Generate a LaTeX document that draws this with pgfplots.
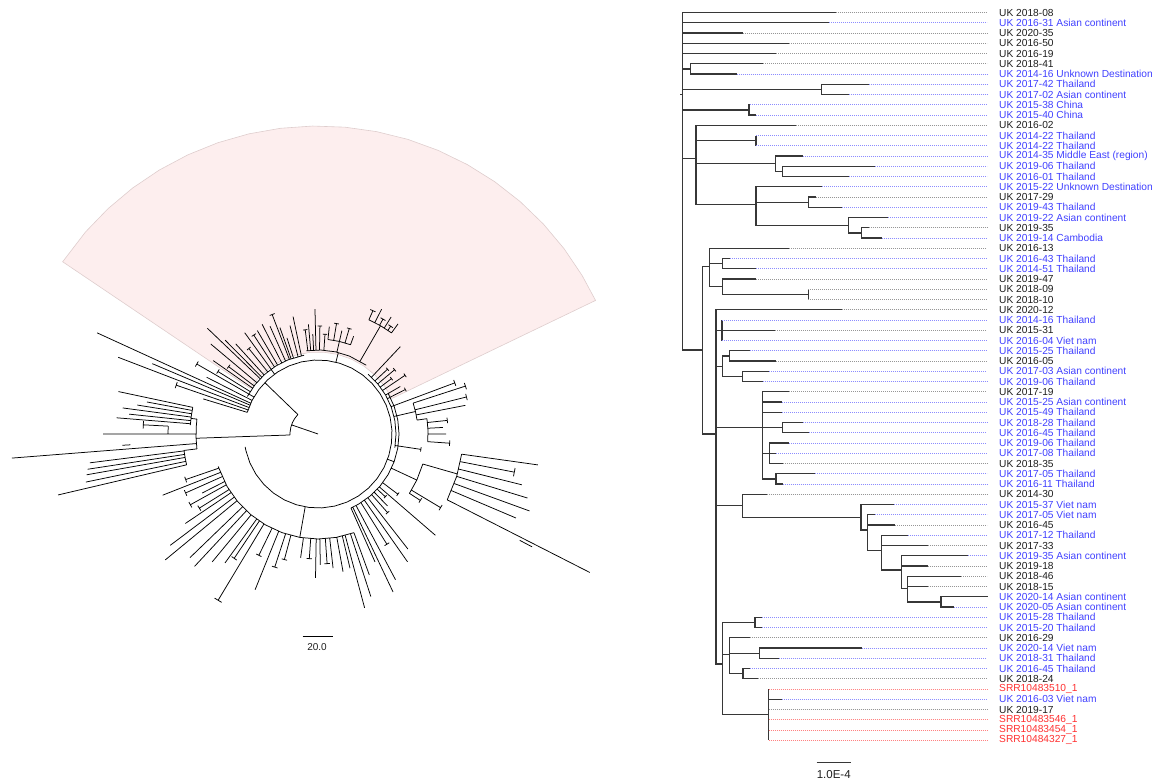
\documentclass[border=0pt]{standalone}
\usepackage{fontspec}
\setmainfont{Liberation Sans}
\usepackage{pgfplots}
\pgfplotsset{compat=1.18}

\definecolor{tipblue}{RGB}{64,64,255}
\definecolor{tipred}{RGB}{255,48,48}
\definecolor{tipblack}{RGB}{30,30,30}
\definecolor{dotblue}{RGB}{140,140,255}
\definecolor{dotred}{RGB}{255,130,130}
\definecolor{dotgray}{RGB}{150,150,150}
\definecolor{branch}{RGB}{55,55,55}
\definecolor{wedge}{RGB}{253,238,238}
\definecolor{wedgeedge}{RGB}{222,205,205}

\pgfplotsset{
  canvas/.style={width=1164pt, height=782pt, scale only axis, hide axis, clip=false},
  leader/.style={line width=0.6pt, dash pattern=on 0.9pt off 1.1pt},
  tiplabel/.style={draw=none, mark=none, nodes near coords, point meta=explicit symbolic,
    nodes near coords align={anchor=west},
    every node near coord/.append style={anchor=west, inner sep=0pt,
      font=\fontsize{10.2}{12}\selectfont, text=#1}},
}

\begin{document}
\begin{tikzpicture}

% ---------- left: circular tree, (angle, radius) around the root ----------
\begin{axis}[canvas, xmin=-318, xmax=846, ymin=-348, ymax=434]

\addplot[fill=wedge, draw=wedgeedge, line width=0.6pt, data cs=polar] coordinates {
 (25.7,82) (25.7,308) (31,308) (37,308) (43,308) (49,308) (55,308) (61,308)
 (67,308) (73,308) (79,308) (85,308) (91,308) (97,308) (103,308) (109,308)
 (115,308) (121,308) (127,308) (133,308) (139,308) (146,308) (146,82)
 (136,82) (126,82) (116,82) (106,82) (96,82) (86,82) (76,82) (66,82)
 (56,82) (46,82) (36,82) (25.7,82)};

\addplot[black, line width=0.75pt, data cs=polar, empty line=jump, unbounded coords=jump] table {
a r
161 0
161 28

136 28
146 28
156 28
166 28
176 28
182 28

136 28
136 74

182 28
182 122

163 74
153 74
143 74
133 74
123 74
113 74
103 74
93 74
83 74
73 74
63 74
53 74
43 74
33 74
23 74
13 74
3 74
-7 74
-17 74
-27 74
-37 74
-47 74
-57 74
-67 74
-77 74
-87 74
-97 74
-107 74
-117 74
-127 74
-137 74
-147 74
-157 74
-167 74
-170 74

152 80
142 80
132 80
122 80
112 80
100 80

126 74
126 80

98 84
88 84
78 84
68 84
55 84

76 74
76 84

50 78
40 78
30 78
20 78
10 78
0 78
-10 78

30 81
20 81
10 81
0 81
-10 81
-20 81
-30 81
-40 81
-50 81
-60 81
-66 81

-20 74
-20 81

-70 105
-80 105
-90 105
-100 105
-110 105
-120 105
-130 105
-140 105
-150 105
-162 105

-100 74
-100 105

173 122
177 122
182 122
187 122

163 74
163 120

161 74
161 150

159.8 150
162.2 150

159 74
159 214

157 74
157 180

155.4 74
155.4 243

153 74
153 125

150 74
150 140

148.8 140
151.2 140

148 80
148 118

146.8 118
149.2 118

145 80
145 128

143 80
143 112

141.8 112
144.2 112

140 80
140 140

136.3 80
136.3 153

134.7 80
134.7 132

132.4 80
132.4 122

129 80
129 110

127.8 110
130.2 110

125.9 80
125.9 125

123 80
123 118

121.8 118
124.2 118

120.4 80
120.4 120

117 80
117 123

114 80
114 118

111 80
111 128

109.8 128
112.2 128

109.7 80
109.7 113

107.9 80
107.9 101

104.5 80
104.5 112

102 80
102 120

97 84
97 105

95.8 105
98.2 105

95 84
95 110

93 84
93 100

91.4 84
91.4 125

89 84
89 108

87.8 108
90.2 108

86 84
86 100

84.8 100
87.2 100

77 84
77 95

84 95
77 95
70 95

84 95
84 108

80.5 95
80.5 112

79.3 112
81.7 112

77 95
77 106

73.5 95
73.5 110

72.3 110
74.7 110

70 95
70 104

60 84
60 125

66 125
60 125
54 125

66 125
66 135

64.8 135
67.2 135

63 125
63 140

60.5 125
60.5 132

59.3 132
61.7 132

58 125
58 138

56 125
56 130

54.8 130
57.2 130

54 125
54 136

46.7 78
46.7 120

43 78
43 95

41.8 95
44.2 95

40 78
40 100

38.8 100
41.2 100

37 78
37 92

35.8 92
38.2 92

34 78
34 105

32.8 105
35.2 105

30 78
30 95

27 78
27 98

25.8 98
28.2 98

20.5 78
20.5 146

19.3 146
21.7 146

13 78
13 100

18 100
13 100
8 100

18 100
18 155

16.8 155
19.2 155

14 100
14 153

12.8 153
15.2 153

11 100
11 150

8 100
8 110

8 110
2 110
-4 110

6 110
6 130

4.8 130
7.2 130

3 110
3 125

0 110
0 128

-4 110
-4 132

-5.2 132
-2.8 132

-8.5 78
-8.5 104

-9.7 104
-7.3 104

-25 81
-25 109

-16 109
-25 109
-33 109

-16 109
-16 145

-8 145
-17 145
-27 145

-8 145
-8 222

-11 145
-11 200

-12.2 200
-9.8 200

-14 145
-14 210

-17 145
-17 219

-20 145
-20 225

-23 145
-23 215

-27 145
-27 305

-27.8 228
-27.8 242

-31 109
-31 143

-32.2 143
-29.8 143

-33 109
-33 122

-34.2 122
-31.8 122

-37 81
-37 100

-38.2 100
-35.8 100

-40.8 81
-40.8 155

-43 81
-43 92

-44.2 92
-41.8 92

-46 81
-46 100

-48.5 81
-48.5 105

-49.7 105
-47.3 105

-52 81
-52 146

-55 81
-55 156

-58 81
-58 130

-59.2 130
-56.8 130

-62 81
-62 165

-64.6 81
-64.6 175

-66 81
-66 140

-70 105
-70 150

-72 105
-72 171

-75 105
-75 180

-76.6 105
-76.6 138

-79.7 105
-79.7 140

-83.6 105
-83.6 135

-86 105
-86 130

-87.2 130
-84.8 130

-89 105
-89 131

-91 105
-91 144

-94 105
-94 125

-95.2 125
-92.8 125

-98 105
-98 125

-105 105
-105 130

-106.2 130
-103.8 130

-108 105
-108 140

-109.2 140
-106.8 140

-112 105
-112 168

-116 105
-116 135

-117.2 135
-114.8 135

-121 105
-121 194

-122.2 194
-119.8 194

-124 105
-124 150

-125.2 150
-122.8 150

-125.8 105
-125.8 159

-129.6 105
-129.6 166

-133 105
-133 181

-136 105
-136 178

-140.5 105
-140.5 198

-143 105
-143 185

-146 105
-146 160

-148 105
-148 140

-149.2 140
-146.8 140

-151 105
-151 146

-152.2 146
-149.8 146

-153 105
-153 130

-156 105
-156 145

-157.2 145
-154.8 145

-158.5 105
-158.5 167

-161 105
-161 140

-162.2 140
-159.8 140

173 122
173 128

176 128
172 128
168 128

168 128
168 204

169.4 128
169.4 174

170.9 128
170.9 183

172.4 128
172.4 197

174 128
174 190

175.4 128
175.4 202

180 122
180 215

177 150
180 150

177 150
177 175

175.8 175
178.2 175

184.5 122
184.5 307

183.3 188
183.3 196

187 122
187 135

187 135
190 135
193.2 135

187.2 135
187.2 230

188.7 135
188.7 233

190 135
190 235

191.7 135
191.7 237

193.2 135
193.2 267
};
\end{axis}

% ---------- right: rectangular tree, in picture pixels (y downwards) ----------
\begin{axis}[canvas, xmin=0, xmax=1164, ymin=0, ymax=782, y dir=reverse]

\addplot[draw=none, forget plot] coordinates {(0,0) (1164,782)};

% branches: parent node -> elbow -> child
\addplot[branch, line width=1.2pt, empty line=jump, unbounded coords=jump] table {
x y
680 94.2
682.7 94.2

682.7 94.2
682.7 12.5
835.7 12.5

682.7 94.2
682.7 22.75
829 22.75

682.7 94.2
682.7 33
742.7 33

682.7 94.2
682.7 43.25
789 43.25

682.7 94.2
682.7 53.5
776 53.5

682.7 94.2
682.7 68.9
690.3 68.9

682.7 94.2
682.7 89.4
821.7 89.4

682.7 94.2
682.7 109.9
749 109.9

682.7 94.2
682.7 158.6
696 158.6

682.7 94.2
682.7 350
702.7 350

690.3 68.9
690.3 63.75
763 63.75

690.3 68.9
690.3 74
736.7 74

821.7 89.4
821.7 84.25
868.7 84.25

821.7 89.4
821.7 94.5
848.7 94.5

749 109.9
749 104.75
750 104.75

749 109.9
749 115
756 115

696 158.6
696 125.25
795.7 125.25

696 158.6
696 140.6
756 140.6

696 158.6
696 163.7
775.3 163.7

696 158.6
696 204.7
756 204.7

756 135.5
756 145.75

775.3 163.7
775.3 156
802.7 156

775.3 163.7
775.3 171.4
782.3 171.4

782.3 171.4
782.3 166.25
875 166.25

782.3 171.4
782.3 176.5
849 176.5

756 204.7
756 186.75
822.3 186.75

756 204.7
756 202.1
808.3 202.1

756 204.7
756 225.2
848.3 225.2

808.3 202.1
808.3 197
815.7 197

808.3 202.1
808.3 207.25
842.3 207.25

848.3 225.2
848.3 217.5
888.3 217.5

848.3 225.2
848.3 232.9
861.7 232.9

861.7 232.9
861.7 227.75
868.7 227.75

861.7 232.9
861.7 238
881.7 238

702.7 350
702.7 266.2
709.7 266.2

702.7 350
702.7 433.9
716 433.9

709.7 266.2
709.7 248.25
789.3 248.25

709.7 266.2
709.7 263.6
722.7 263.6

709.7 266.2
709.7 286.7
722.7 286.7

722.7 263.6
722.7 258.5
730 258.5

722.7 263.6
722.7 268.75
756 268.75

722.7 286.7
722.7 279
756 279

722.7 286.7
722.7 294.4
808.3 294.4

808.3 289.25
808.3 299.5

716 433.9
716 309.75
841.7 309.75

716 433.9
716 330.25
722 330.25

716 433.9
716 366.1
722.7 366.1

716 433.9
716 427.6
762.7 427.6

716 433.9
716 505.75
742.7 505.75

716 433.9
716 663.9
722.7 663.9

722 320
722 340.5

722 330.25
775.3 330.25

722.7 366.1
722.7 355.9
729.7 355.9

722.7 366.1
722.7 376.4
742.7 376.4

729.7 355.9
729.7 350.75
749.7 350.75

729.7 355.9
729.7 361
776.3 361

742.7 376.4
742.7 371.25
769.3 371.25

742.7 376.4
742.7 381.5
762.7 381.5

762.7 427.6
762.7 391.75
789.3 391.75

762.7 427.6
762.7 402
782.3 402

762.7 427.6
762.7 412.25
782.3 412.25

762.7 427.6
782.3 427.6

762.7 427.6
762.7 453.25
769.3 453.25

762.7 427.6
762.7 478.9
776 478.9

782.3 427.6
782.3 422.5
802.7 422.5

782.3 427.6
782.3 432.75
809.3 432.75

769.3 453.25
769.3 443
789.3 443

769.3 453.25
776 453.25

769.3 453.25
769.3 463.5
782.7 463.5

776 478.9
776 473.75
815 473.75

776 478.9
776 484
782.7 484

742.7 505.75
742.7 494.25
766.7 494.25

742.7 505.75
742.7 517.25
861 517.25

861 517.25
861 504.5
894.3 504.5

861 517.25
861 530
867.7 530

867.7 530
867.7 514.75
875 514.75

867.7 530
867.7 525
895 525

867.7 530
867.7 550.25
881.7 550.25

881.7 550.25
881.7 535.25
907.7 535.25

881.7 550.25
881.7 545.5
927.7 545.5

881.7 550.25
881.7 570
901.7 570

901.7 570
901.7 555.75
967.7 555.75

901.7 570
901.7 566
927.7 566

901.7 570
901.7 588.2
907.7 588.2

907.7 588.2
907.7 576.25
961 576.25

907.7 588.2
907.7 586.5
927.7 586.5

907.7 588.2
907.7 601.9
941 601.9

941 601.9
941 596.75
988 596.75

941 601.9
941 607
954.3 607

722.7 663.9
722.7 622.4
755 622.4

722.7 663.9
722.7 654.8
729.7 654.8

722.7 663.9
722.7 714.6
768.7 714.6

755 622.4
755 617.25
762 617.25

755 622.4
755 627.5
762 627.5

729.7 654.8
729.7 637.75
749.7 637.75

729.7 654.8
729.7 653.1
759.3 653.1

729.7 654.8
729.7 673.6
743 673.6

759.3 653.1
759.3 648
861.7 648

759.3 653.1
759.3 658.25
779.3 658.25

743 673.6
743 668.5
750.3 668.5

743 673.6
743 678.75
758 678.75

768.7 689
768.7 740.25

768.7 699.25
782 699.25
};

% dotted leaders from each tip to the label column
\addplot[dotgray, leader, empty line=jump, unbounded coords=jump] table {
x y
835.7 12.5
987 12.5

742.7 33
987 33

789 43.25
987 43.25

776 53.5
987 53.5

763 63.75
987 63.75

795.7 125.25
987 125.25

815.7 197
987 197

868.7 227.75
987 227.75

789.3 248.25
987 248.25

756 279
987 279

808.3 289.25
987 289.25

808.3 299.5
987 299.5

841.7 309.75
987 309.75

775.3 330.25
987 330.25

776.3 361
987 361

789.3 391.75
987 391.75

782.7 463.5
987 463.5

766.7 494.25
987 494.25

895 525
987 525

927.7 545.5
987 545.5

927.7 566
987 566

961 576.25
987 576.25

927.7 586.5
987 586.5

749.7 637.75
987 637.75

758 678.75
987 678.75

768.7 709.5
987 709.5
};

\addplot[dotblue, leader, empty line=jump, unbounded coords=jump] table {
x y
829 22.75
987 22.75

736.7 74
987 74

868.7 84.25
987 84.25

848.7 94.5
987 94.5

750 104.75
987 104.75

756 115
987 115

756 135.5
987 135.5

756 145.75
987 145.75

802.7 156
987 156

875 166.25
987 166.25

849 176.5
987 176.5

822.3 186.75
987 186.75

842.3 207.25
987 207.25

888.3 217.5
987 217.5

881.7 238
987 238

730 258.5
987 258.5

756 268.75
987 268.75

722 320
987 320

722 340.5
987 340.5

749.7 350.75
987 350.75

769.3 371.25
987 371.25

762.7 381.5
987 381.5

782.3 402
987 402

782.3 412.25
987 412.25

802.7 422.5
987 422.5

809.3 432.75
987 432.75

789.3 443
987 443

776 453.25
987 453.25

815 473.75
987 473.75

782.7 484
987 484

894.3 504.5
987 504.5

875 514.75
987 514.75

907.7 535.25
987 535.25

967.7 555.75
987 555.75

954.3 607
987 607

762 617.25
987 617.25

762 627.5
987 627.5

861.7 648
987 648

779.3 658.25
987 658.25

750.3 668.5
987 668.5

782 699.25
987 699.25
};

\addplot[dotred, leader, empty line=jump, unbounded coords=jump] table {
x y
768.7 689
987 689

768.7 719.75
987 719.75

768.7 730
987 730

768.7 740.25
987 740.25
};

% tip labels
\addplot[tiplabel=tipblack] table[col sep=comma, meta=label] {
x,y,label
999,12.5,UK 2018-08
999,33,UK 2020-35
999,43.25,UK 2016-50
999,53.5,UK 2016-19
999,63.75,UK 2018-41
999,125.25,UK 2016-02
999,197,UK 2017-29
999,227.75,UK 2019-35
999,248.25,UK 2016-13
999,279,UK 2019-47
999,289.25,UK 2018-09
999,299.5,UK 2018-10
999,309.75,UK 2020-12
999,330.25,UK 2015-31
999,361,UK 2016-05
999,391.75,UK 2017-19
999,463.5,UK 2018-35
999,494.25,UK 2014-30
999,525,UK 2016-45
999,545.5,UK 2017-33
999,566,UK 2019-18
999,576.25,UK 2018-46
999,586.5,UK 2018-15
999,637.75,UK 2016-29
999,678.75,UK 2018-24
999,709.5,UK 2019-17
};

\addplot[tiplabel=tipblue] table[col sep=comma, meta=label] {
x,y,label
999,22.75,UK 2016-31 Asian continent
999,74,UK 2014-16 Unknown Destination
999,84.25,UK 2017-42 Thailand
999,94.5,UK 2017-02 Asian continent
999,104.75,UK 2015-38 China
999,115,UK 2015-40 China
999,135.5,UK 2014-22 Thailand
999,145.75,UK 2014-22 Thailand
999,156,UK 2014-35 Middle East (region)
999,166.25,UK 2019-06 Thailand
999,176.5,UK 2016-01 Thailand
999,186.75,UK 2015-22 Unknown Destination
999,207.25,UK 2019-43 Thailand
999,217.5,UK 2019-22 Asian continent
999,238,UK 2019-14 Cambodia
999,258.5,UK 2016-43 Thailand
999,268.75,UK 2014-51 Thailand
999,320,UK 2014-16 Thailand
999,340.5,UK 2016-04 Viet nam
999,350.75,UK 2015-25 Thailand
999,371.25,UK 2017-03 Asian continent
999,381.5,UK 2019-06 Thailand
999,402,UK 2015-25 Asian continent
999,412.25,UK 2015-49 Thailand
999,422.5,UK 2018-28 Thailand
999,432.75,UK 2016-45 Thailand
999,443,UK 2019-06 Thailand
999,453.25,UK 2017-08 Thailand
999,473.75,UK 2017-05 Thailand
999,484,UK 2016-11 Thailand
999,504.5,UK 2015-37 Viet nam
999,514.75,UK 2017-05 Viet nam
999,535.25,UK 2017-12 Thailand
999,555.75,UK 2019-35 Asian continent
999,596.75,UK 2020-14 Asian continent
999,607,UK 2020-05 Asian continent
999,617.25,UK 2015-28 Thailand
999,627.5,UK 2015-20 Thailand
999,648,UK 2020-14 Viet nam
999,658.25,UK 2018-31 Thailand
999,668.5,UK 2016-45 Thailand
999,699.25,UK 2016-03 Viet nam
};

\addplot[tiplabel=tipred] table[col sep=comma, meta=label] {
x,y,label
999,689,SRR10483510\_1
999,719.75,SRR10483546\_1
999,730,SRR10483454\_1
999,740.25,SRR10484327\_1
};

% scale bars
\addplot[branch, line width=1.3pt] coordinates {(816.7,762.3) (850.7,762.3)};
\addplot[black, line width=0.9pt] coordinates {(302.7,636) (333.3,636)};
\node[font=\fontsize{11.5}{13}\selectfont, text=tipblack] at (axis cs:833.7,774.5) {1.0E-4};
\node[font=\fontsize{10}{12}\selectfont, text=tipblack] at (axis cs:317,647) {20.0};

\end{axis}
\end{tikzpicture}
\end{document}
